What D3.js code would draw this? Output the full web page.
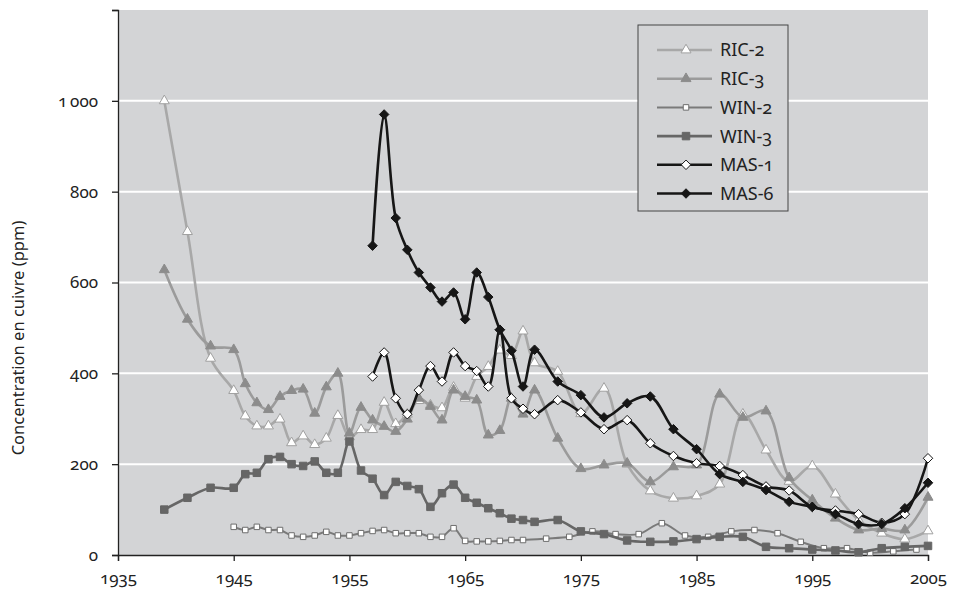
<!DOCTYPE html>
<html>
<head>
<meta charset="utf-8">
<script src="https://cdn.jsdelivr.net/npm/d3@7"></script>
<style>
body { margin: 0; background: #fff; }
text { font-family: "Noto Sans", sans-serif; font-feature-settings: "onum" 1; fill: #222; }
</style>
</head>
<body>
<svg id="chart" width="955" height="594"></svg>
<script>
// values (ppm)
const ric2Years = [1939, 1941, 1943, 1945, 1946, 1947, 1948, 1949, 1950, 1951, 1952, 1953, 1954, 1955, 1956, 1957, 1958, 1959, 1960, 1961, 1962, 1963, 1964, 1965, 1966, 1967, 1968, 1969, 1970, 1971, 1973, 1975, 1977, 1979, 1981, 1983, 1985, 1987, 1989, 1991, 1993, 1995, 1997, 1999, 2001, 2003, 2005]
const ric2Values = [1000, 712, 433, 362, 306, 284, 284, 299, 247, 262, 243, 257, 307, 260, 276, 276, 336, 289, 310, 340, 330, 324, 369, 345, 393, 415, 451, 439, 493, 423, 404, 311, 367, 200, 141, 125, 130, 156, 310, 231, 162, 196, 134, 77, 48, 35, 53]

const ric3Years = [1939, 1941, 1943, 1945, 1946, 1947, 1948, 1949, 1950, 1951, 1952, 1953, 1954, 1955, 1956, 1957, 1958, 1959, 1960, 1961, 1962, 1963, 1964, 1965, 1966, 1967, 1968, 1969, 1970, 1971, 1973, 1975, 1977, 1979, 1981, 1983, 1985, 1987, 1989, 1991, 1993, 1995, 1997, 1999, 2001, 2003, 2005]
const ric3Values = [628, 519, 460, 452, 377, 335, 320, 349, 362, 365, 312, 370, 400, 268, 325, 297, 283, 272, 299, 345, 327, 297, 363, 349, 341, 264, 274, 345, 310, 363, 257, 190, 198, 202, 161, 194, 198, 354, 303, 317, 170, 121, 81, 55, 58, 55, 127]

const win2Years = [1945, 1946, 1947, 1948, 1949, 1950, 1951, 1952, 1953, 1954, 1955, 1956, 1957, 1958, 1959, 1960, 1961, 1962, 1963, 1964, 1965, 1966, 1967, 1968, 1969, 1970, 1972, 1974, 1976, 1978, 1980, 1982, 1984, 1986, 1988, 1990, 1992, 1994, 1996, 1998, 2000, 2002, 2004]
const win2Values = [62, 55, 62, 55, 55, 43, 40, 43, 51, 43, 43, 48, 53, 55, 48, 48, 48, 40, 40, 59, 31, 30, 30, 31, 33, 33, 36, 40, 52, 46, 46, 70, 43, 40, 52, 55, 48, 29, 15, 15, 5, 8, 12]

const win3Years = [1939, 1941, 1943, 1945, 1946, 1947, 1948, 1949, 1950, 1951, 1952, 1953, 1954, 1955, 1956, 1957, 1958, 1959, 1960, 1961, 1962, 1963, 1964, 1965, 1966, 1967, 1968, 1969, 1970, 1971, 1973, 1975, 1977, 1979, 1981, 1983, 1985, 1987, 1989, 1991, 1993, 1995, 1997, 1999, 2001, 2003, 2005]
const win3Values = [100, 126, 148, 148, 178, 181, 211, 216, 200, 196, 206, 181, 181, 250, 186, 168, 132, 161, 152, 145, 106, 136, 155, 126, 115, 103, 92, 80, 77, 73, 77, 52, 46, 32, 29, 30, 35, 40, 40, 18, 15, 12, 10, 6, 15, 18, 20]

const mas1Years = [1957, 1958, 1959, 1960, 1961, 1962, 1963, 1964, 1965, 1966, 1967, 1968, 1969, 1970, 1971, 1973, 1975, 1977, 1979, 1981, 1983, 1985, 1987, 1989, 1991, 1993, 1995, 1997, 1999, 2001, 2003, 2005]
const mas1Values = [393, 446, 345, 310, 363, 416, 382, 446, 416, 405, 371, 496, 345, 322, 310, 341, 314, 277, 297, 246, 218, 202, 196, 176, 151, 142, 106, 98, 90, 71, 90, 213]

const mas6Years = [1957, 1958, 1959, 1960, 1961, 1962, 1963, 1964, 1965, 1966, 1967, 1968, 1969, 1970, 1971, 1973, 1975, 1977, 1979, 1981, 1983, 1985, 1987, 1989, 1991, 1993, 1995, 1997, 1999, 2001, 2003, 2005]
const mas6Values = [681, 970, 742, 672, 622, 589, 558, 578, 519, 622, 568, 496, 450, 371, 452, 382, 352, 303, 334, 349, 277, 233, 178, 161, 143, 117, 106, 90, 68, 68, 103, 159]

const seriesNames = ['RIC-2', 'RIC-3', 'WIN-2', 'WIN-3', 'MAS-1', 'MAS-6']
const xTicks = [1935, 1945, 1955, 1965, 1975, 1985, 1995, 2005]
const yTicks = [0, 200, 400, 600, 800, 1000, 1200]

const series = [
    { name: seriesNames[0], years: ric2Years, values: ric2Values, line: '#a8a8a8', width: 2.6, shape: 'triangle', fill: '#fff', stroke: '#a0a0a0', size: 10 },
    { name: seriesNames[1], years: ric3Years, values: ric3Values, line: '#9b9b9b', width: 2.6, shape: 'triangle', fill: '#8c8c8c', stroke: '#8c8c8c', size: 10 },
    { name: seriesNames[2], years: win2Years, values: win2Values, line: '#7a7a7a', width: 2, shape: 'square', fill: '#fff', stroke: '#6e6e6e', size: 5.5 },
    { name: seriesNames[3], years: win3Years, values: win3Values, line: '#666', width: 2.6, shape: 'square', fill: '#666', stroke: '#666', size: 7.5 },
    { name: seriesNames[4], years: mas1Years, values: mas1Values, line: '#161616', width: 2.6, shape: 'diamond', fill: '#fff', stroke: '#161616', size: 8.5 },
    { name: seriesNames[5], years: mas6Years, values: mas6Values, line: '#161616', width: 2.6, shape: 'diamond', fill: '#161616', stroke: '#161616', size: 8.5 }
]

const svg = d3.select('#chart')
const plotLeft = 118, plotRight = 928, plotTop = 10, plotBottom = 555

const x = d3.scaleLinear().domain([1935, 2005]).range([plotLeft, plotRight])
const y = d3.scaleLinear().domain([0, 1200]).range([plotBottom, plotTop])

// plot background + gridlines
svg.append('rect')
    .attr('x', plotLeft).attr('y', plotTop)
    .attr('width', plotRight - plotLeft).attr('height', plotBottom - plotTop)
    .attr('fill', '#d3d4d6')

svg.append('g')
    .selectAll('line')
    .data(yTicks.filter(t => t > 0 && t < 1200))
    .enter()
    .append('line')
    .attr('x1', plotLeft).attr('x2', plotRight)
    .attr('y1', d => y(d)).attr('y2', d => y(d))
    .attr('stroke', '#fff')
    .attr('stroke-width', 2)

// axes
const yAxis = d3.axisLeft(y)
    .tickValues(yTicks)
    .tickSize(6)
    .tickPadding(14)
    .tickFormat(d => d == 1200 ? '' : (d >= 1000 ? '1\u2009000' : d))
svg.append('g')
    .attr('transform', 'translate(' + plotLeft + ',0)')
    .call(yAxis)

const xAxis = d3.axisBottom(x)
    .tickValues(xTicks)
    .tickSize(6)
    .tickPadding(11)
    .tickFormat(d => d)
svg.append('g')
    .attr('transform', 'translate(0,' + plotBottom + ')')
    .call(xAxis)

svg.selectAll('.domain').attr('stroke', '#222').attr('stroke-width', 1.3)
svg.selectAll('.tick line').attr('stroke', '#222').attr('stroke-width', 1.3)
svg.selectAll('.tick text').attr('font-size', 17).attr('fill', '#222')
    .style('font-family', '"Noto Sans", sans-serif')

svg.append('text')
    .attr('transform', 'translate(24,338) rotate(-90)')
    .attr('text-anchor', 'middle')
    .attr('font-size', 16.5)
    .text('Concentration en cuivre (ppm)')

function markerPath(shape, size) {
    if (shape == 'triangle') {
        const area = Math.sqrt(3) / 4 * size * size
        return d3.symbol().type(d3.symbolTriangle).size(area)()
    }
    if (shape == 'square') {
        return d3.symbol().type(d3.symbolSquare).size(size * size)()
    }
    const h = size / 2 + 0.5
    return `M0,${-h}L${h},0L0,${h}L${-h},0Z`
}

const line = d3.line()
    .x(d => x(d[0]))
    .y(d => y(d[1]))
    .curve(d3.curveCatmullRom.alpha(0.5))

for (let s of series) {
    const points = s.years.map((yr, i) => [yr, s.values[i]])
    const g = svg.append('g').attr('class', 'series')
    g.append('path')
        .datum(points)
        .attr('d', line)
        .attr('fill', 'none')
        .attr('stroke', s.line)
        .attr('stroke-width', s.width)
        .attr('stroke-linejoin', 'round')
    g.selectAll('path.marker')
        .data(points)
        .enter()
        .append('path')
        .attr('class', 'marker')
        .attr('transform', d => 'translate(' + x(d[0]) + ',' + y(d[1]) + ')')
        .attr('d', markerPath(s.shape, s.size))
        .attr('fill', s.fill)
        .attr('stroke', s.stroke)
        .attr('stroke-width', 1)
}

// legend
const legend = svg.append('g').attr('transform', 'translate(638,25)')
legend.append('rect')
    .attr('width', 150).attr('height', 186)
    .attr('fill', '#d3d4d6')
    .attr('stroke', '#444')
    .attr('stroke-width', 1)

const rows = legend.selectAll('g.row')
    .data(series)
    .enter()
    .append('g')
    .attr('class', 'row')
    .attr('transform', (d, i) => 'translate(0,' + (25 + i * 28.7) + ')')

rows.append('line')
    .attr('x1', 19).attr('x2', 74)
    .attr('stroke', d => d.line)
    .attr('stroke-width', d => d.width)
rows.append('path')
    .attr('transform', 'translate(48,0)')
    .attr('d', d => markerPath(d.shape, d.size))
    .attr('fill', d => d.fill)
    .attr('stroke', d => d.stroke)
    .attr('stroke-width', 1)
rows.append('text')
    .attr('x', 82)
    .attr('dy', '0.36em')
    .attr('font-size', 18)
    .text(d => d.name)
</script>
</body>
</html>
